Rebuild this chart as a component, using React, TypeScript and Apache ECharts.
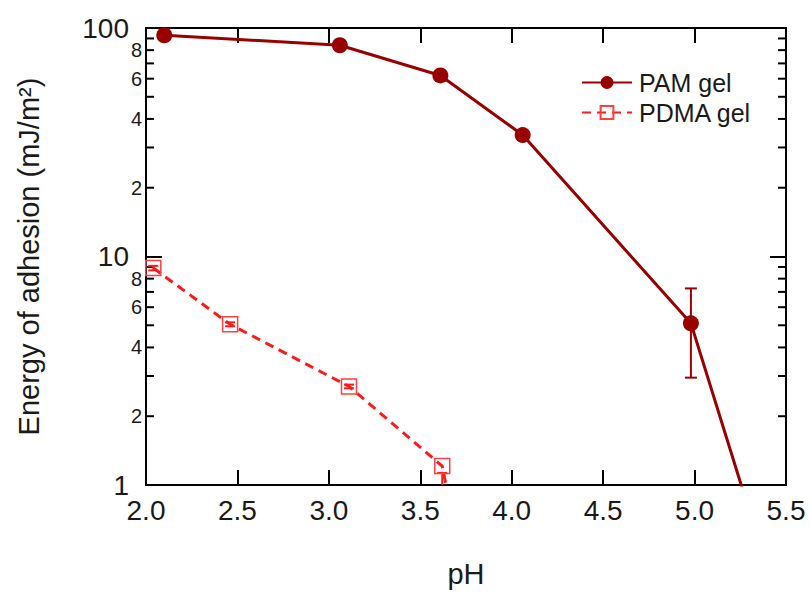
import React, { useEffect, useRef } from "react";
import * as echarts from "echarts";

const pamX = [2.1, 3.06, 3.61, 4.06, 4.98, 5.35];
const pamY = [93, 84, 62, 34, 5.1, 0.57];
const pamErrX = [4.98];
const pamErrLo = [2.95];
const pamErrHi = [7.25];

const pdmaX = [2.04, 2.46, 3.11, 3.62, 3.74];
const pdmaY = [8.9, 5.05, 2.7, 1.21, 0.4];
const pdmaErrX = [2.04, 2.46, 3.11, 3.62];
const pdmaErrLo = [8.7, 4.95, 2.65, 0.8];
const pdmaErrHi = [9.1, 5.15, 2.75, 1.13];

const minorTicks = [2, 3, 4, 5, 6, 7, 8, 9, 20, 30, 40, 50, 60, 70, 80, 90];
const minorLabels = [2, 4, 6, 8, 20, 40, 60, 80];

const FONT = "Liberation Sans, Arial, sans-serif";
const TXT = "#1a1a1a";
const PAM_C = "#990000";
const PDMA_C = "#ff1a1a";

export default function App() {
  const ref = useRef<HTMLDivElement>(null);
  useEffect(() => {
    if (!ref.current) return;
    const chart = echarts.init(ref.current, null, { renderer: "svg" });
    const errRender = (color: string, w: number, lw: number) => (params: any, api: any) => {
      const x = api.value(0);
      const lo = api.coord([x, api.value(1)]);
      const hi = api.coord([x, api.value(2)]);
      const st = { stroke: color, lineWidth: lw };
      return {
        type: "group",
        children: [
          { type: "line", shape: { x1: lo[0], y1: lo[1], x2: hi[0], y2: hi[1] }, style: st },
          { type: "line", shape: { x1: lo[0] - w, y1: lo[1], x2: lo[0] + w, y2: lo[1] }, style: st },
          { type: "line", shape: { x1: hi[0] - w, y1: hi[1], x2: hi[0] + w, y2: hi[1] }, style: st },
        ],
      };
    };
    const axisLine = { show: true, lineStyle: { color: "#000", width: 2 } };
    const option: any = {
      animation: false,
      backgroundColor: "#fff",
      grid: { left: 146, top: 28, right: 25, bottom: 105, containLabel: false },
      legend: {
        left: 576,
        top: 65,
        orient: "vertical",
        itemWidth: 50,
        itemHeight: 16,
        itemGap: 5,
        textStyle: { fontFamily: FONT, fontSize: 25, color: TXT, padding: [0, 0, 0, 2] },
        data: ["PAM gel", "PDMA gel"],
      },
      xAxis: [
        {
          type: "value",
          min: 2,
          max: 5.5,
          interval: 0.5,
          name: "pH",
          nameLocation: "middle",
          nameGap: 74,
          nameTextStyle: { fontFamily: FONT, fontSize: 29, color: TXT },
          axisLine,
          axisTick: { inside: true, length: 15, lineStyle: { color: "#000", width: 2 } },
          axisLabel: {
            fontFamily: FONT,
            fontSize: 28,
            color: TXT,
            margin: 11,
            formatter: (v: number) => v.toFixed(1),
          },
          splitLine: { show: false },
        },
        {
          type: "value",
          position: "top",
          min: 2,
          max: 5.5,
          interval: 0.5,
          axisLine,
          axisTick: { inside: true, length: 15, lineStyle: { color: "#000", width: 2 } },
          axisLabel: { show: false },
          splitLine: { show: false },
        },
      ],
      yAxis: [
        {
          type: "log",
          logBase: 10,
          min: 1,
          max: 100,
          name: "Energy of adhesion (mJ/m²)",
          nameLocation: "middle",
          nameGap: 103,
          nameRotate: 90,
          nameTextStyle: { fontFamily: FONT, fontSize: 29, color: TXT },
          axisLine,
          axisTick: { inside: true, length: 16, lineStyle: { color: "#000", width: 2 } },
          axisLabel: { fontFamily: FONT, fontSize: 28, color: TXT, margin: 17 },
          splitLine: { show: false },
          minorTick: { show: false },
        },
        {
          type: "log",
          logBase: 10,
          min: 1,
          max: 100,
          position: "right",
          axisLine,
          axisTick: { inside: true, length: 16, lineStyle: { color: "#000", width: 2 } },
          axisLabel: { show: false },
          splitLine: { show: false },
        },
      ],
      series: [
        {
          name: "PAM gel",
          type: "line",
          data: pamX.map((x, i) => [x, pamY[i]]),
          symbol: "circle",
          symbolSize: 16,
          lineStyle: { color: PAM_C, width: 3 },
          itemStyle: { color: PAM_C },
          clip: true,
          z: 3,
        },
        {
          name: "PDMA gel",
          type: "line",
          data: pdmaX.map((x, i) => [x, pdmaY[i]]),
          symbol: "rect",
          symbolSize: 15,
          lineStyle: { color: PDMA_C, width: 3, type: [9, 6] },
          itemStyle: { color: "rgba(255,255,255,0)", borderColor: "#ff4040", borderWidth: 1.5 },
          clip: true,
          z: 3,
        },
        {
          type: "custom",
          data: pamErrX.map((x, i) => [x, pamErrLo[i], pamErrHi[i]]),
          renderItem: errRender(PAM_C, 6, 2),
          clip: true,
          silent: true,
          z: 2,
        },
        {
          type: "custom",
          data: pdmaErrX.map((x, i) => [x, pdmaErrLo[i], pdmaErrHi[i]]),
          renderItem: errRender(PDMA_C, 5, 2),
          clip: true,
          silent: true,
          z: 2,
        },
      ],
    };
    chart.setOption(option);

    const left = chart.convertToPixel({ xAxisIndex: 0 }, 2) as number;
    const right = chart.convertToPixel({ xAxisIndex: 0 }, 5.5) as number;
    const graphics: any[] = [];
    minorTicks.forEach((v) => {
      const y = chart.convertToPixel({ yAxisIndex: 0 }, v) as number;
      graphics.push({
        type: "line",
        shape: { x1: left, y1: y, x2: left + 8, y2: y },
        style: { stroke: "#000", lineWidth: 2 },
      });
      graphics.push({
        type: "line",
        shape: { x1: right, y1: y, x2: right - 8, y2: y },
        style: { stroke: "#000", lineWidth: 2 },
      });
    });
    minorLabels.forEach((v) => {
      const y = chart.convertToPixel({ yAxisIndex: 0 }, v) as number;
      const d = String(v)[0];
      graphics.push({
        type: "text",
        x: left - 4,
        y,
        style: {
          text: d,
          fontFamily: FONT,
          fontSize: 20,
          fill: TXT,
          align: "right",
          verticalAlign: "middle",
        },
      });
    });
    chart.setOption({ graphic: graphics });

    return () => chart.dispose();
  }, []);
  return <div ref={ref} style={{ width: 811, height: 593, position: "absolute", left: 0, top: 0 }} />;
}
